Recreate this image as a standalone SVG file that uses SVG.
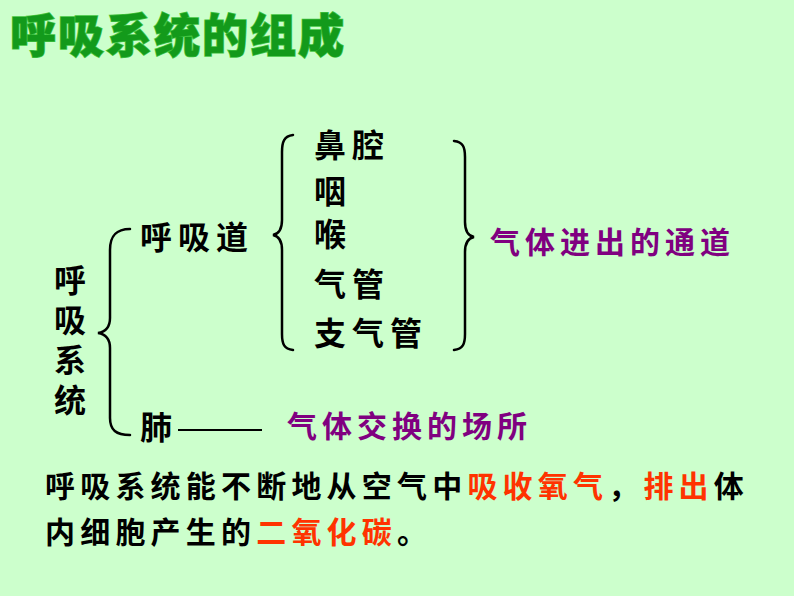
<svg xmlns="http://www.w3.org/2000/svg" width="794" height="596" viewBox="0 0 794 596">
<style>
.t{font-family:"Noto Sans CJK SC","Noto Sans",sans-serif;font-weight:bold;fill:#000}
.b{font-size:32px;letter-spacing:6px}
.p{fill:#800080;font-size:30px;letter-spacing:5px}
.r{fill:#FF3300}
.bt{font-size:30px;letter-spacing:5.2px}
.br{fill:none;stroke:#000;stroke-width:2.5;stroke-linecap:round}
</style>
<rect width="794" height="596" fill="#CCFFCC"/>
<g id="title"><text x="10" y="52" class="t" style="font-size:46px;font-weight:900;fill:#139A1B;stroke:#3FC43F;stroke-width:1.5;paint-order:stroke;letter-spacing:2px">呼吸系统的组成</text></g>
<g id="system">
<text x="70" y="264" class="t" style="font-size:32px;letter-spacing:8px;writing-mode:vertical-rl">呼吸系统</text>
</g>
<g id="tract"><text x="140" y="249" class="t b">呼吸道</text></g>
<g id="lung"><text x="140" y="439" class="t b">肺</text></g>
<g id="parts">
<text x="314" y="157" class="t b">鼻腔</text>
<text x="314" y="203" class="t b">咽</text>
<text x="314" y="246" class="t b">喉</text>
<text x="314" y="296" class="t b">气管</text>
<text x="314" y="345" class="t b">支气管</text>
</g>
<g id="channel"><text x="490" y="253" class="t p">气体进出的通道</text></g>
<g id="exchange"><text x="287" y="437" class="t p">气体交换的场所</text></g>
<g id="summary">
<text x="45" y="497" class="t bt">呼吸系统能不断地从空气中<tspan class="r">吸收氧气</tspan>，<tspan class="r">排出</tspan>体</text>
<text x="45" y="543" class="t bt">内细胞产生的<tspan class="r">二氧化碳</tspan>。</text>
</g>
<g id="connectors">
<path class="br" d="M130,229 C116,229 110,236 110,250 L110,318 C110,328 104,332 98,333 C104,334 110,338 110,348 L110,418 C110,430 116,435 130,435"/>
<path class="br" d="M293,135 C284,136 282,142 282,152 L282,220 C282,230 278,234 273,235 C278,236 282,240 282,250 L282,334 C282,344 284,349 293,350"/>
<path class="br" d="M454,141 C463,142 465,147 465,157 L465,222 C465,232 469,236 474,237 C469,238 465,242 465,252 L465,334 C465,344 463,349 454,350"/>
<line x1="178" y1="430" x2="262" y2="430" stroke="#000" stroke-width="2"/>
</g>
</svg>
